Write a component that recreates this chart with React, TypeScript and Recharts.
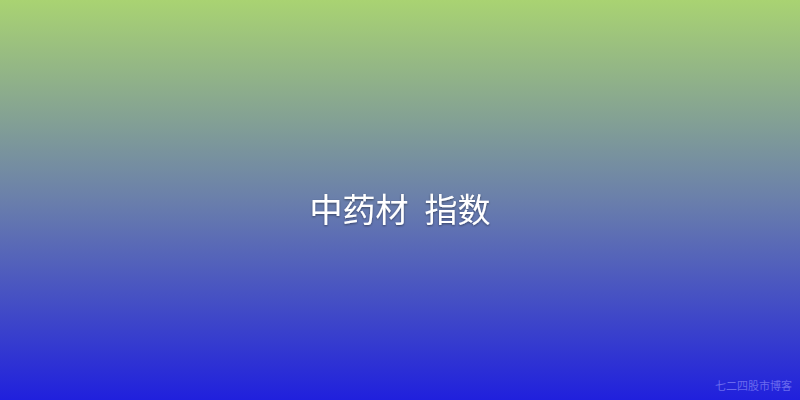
import { ComposedChart, XAxis, YAxis } from "recharts";

const titleParts = ["中药材", "指数"];
const watermark = "七二四股市博客";
const points = [{ name: "", value: 0 }];

const W = 800;
const H = 400;

export default function App() {
  return (
    <div style={{ position: "fixed", left: 0, top: 0, width: W, height: H }}>
      <ComposedChart width={W} height={H} data={points} margin={{ top: 0, right: 0, bottom: 0, left: 0 }}>
        <defs>
          <linearGradient id="bg" x1="0" y1="0" x2="0" y2="1">
            <stop offset="0%" stopColor="#a9d372" />
            <stop offset="50%" stopColor="#6a7fab" />
            <stop offset="100%" stopColor="#2020dd" />
          </linearGradient>
          <filter id="shadow" x="-10%" y="-30%" width="120%" height="160%">
            <feDropShadow dx="0" dy="1" stdDeviation="1.2" floodColor="#000" floodOpacity="0.45" />
          </filter>
        </defs>
        <rect x={0} y={0} width={W} height={H} fill="url(#bg)" />
        <XAxis dataKey="name" hide />
        <YAxis hide />
        <text
          x={W / 2}
          y={208}
          textAnchor="middle"
          dominantBaseline="central"
          fill="#ffffff"
          fontSize={33}
          fontFamily="'Noto Sans CJK SC', sans-serif"
          filter="url(#shadow)"
        >
          <tspan>{titleParts[0]}</tspan>
          <tspan dx={16}>{titleParts[1]}</tspan>
        </text>
        <text
          x={792}
          y={385}
          textAnchor="end"
          dominantBaseline="central"
          fill="#6a6aee"
          fontSize={11}
          fontFamily="'Noto Sans CJK SC', sans-serif"
        >
          {watermark}
        </text>
      </ComposedChart>
    </div>
  );
}
